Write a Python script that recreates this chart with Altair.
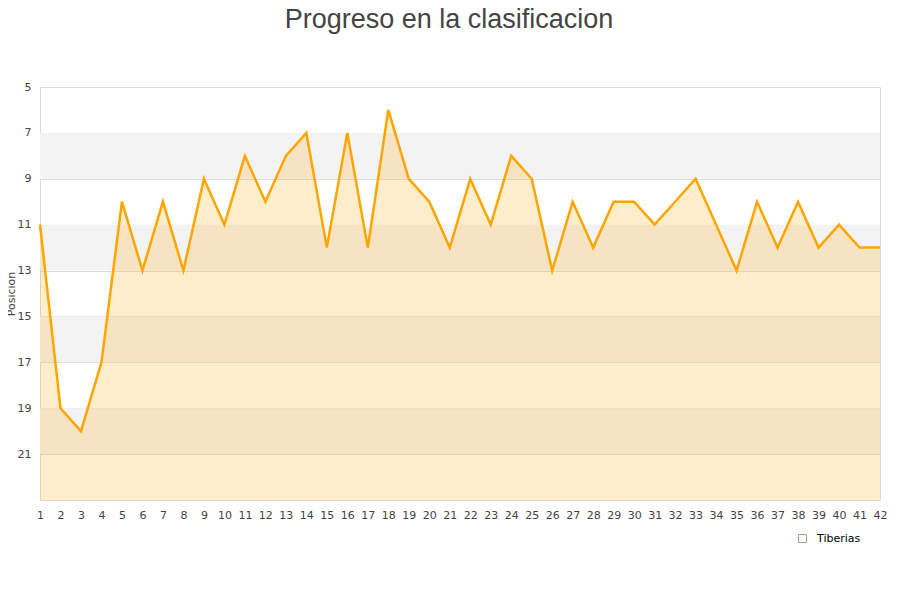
import altair as alt
import pandas as pd

jornadas = list(range(1, 43))
posiciones = [11, 19, 20, 17, 10, 13, 10, 13, 9, 11, 8, 10, 8, 7, 12, 7, 12, 6, 9, 10,
              12, 9, 11, 8, 9, 13, 10, 12, 10, 10, 11, 10, 9, 11, 13, 10, 12, 10, 12, 11,
              12, 12]
equipo = "Tiberias"
band_lo = [7, 11, 15, 19]
band_hi = [9, 13, 17, 21]
y_ticks = [5, 7, 9, 11, 13, 15, 17, 19, 21]

df = pd.DataFrame({"jornada": jornadas, "pos": posiciones, "serie": [equipo] * len(jornadas)})
bands = pd.DataFrame({"lo": band_lo, "hi": band_hi})

W, H = 840, 413

xscale = alt.Scale(domain=[1, 42], nice=False)
yscale = alt.Scale(domain=[5, 23], reverse=True, nice=False, zero=False)

xaxis = alt.Axis(values=jornadas, title=None, grid=False, ticks=False, domain=False,
                 labelFontSize=11, labelColor="#444", labelPadding=9,
                 labelFont="DejaVu Sans", labelFlush=False, labelOverlap=False)
yaxis = alt.Axis(values=y_ticks, title="Posicion", grid=True, gridColor="#dddddd",
                 ticks=False, domain=False, labelFontSize=11, labelColor="#444",
                 labelPadding=9, labelFont="DejaVu Sans", titleFont="DejaVu Sans",
                 titleFontSize=11, titleFontWeight="normal", titleColor="#444",
                 titlePadding=1)

band_layer = alt.Chart(bands).mark_rect(color="#f3f3f3").encode(
    x=alt.value(0), x2=alt.value(W),
    y=alt.Y("lo:Q", scale=yscale, axis=yaxis),
    y2="hi:Q",
)

area = alt.Chart(df).mark_area(color="#FFA500", fillOpacity=0.2, strokeWidth=0).encode(
    x=alt.X("jornada:Q", scale=xscale, axis=xaxis),
    y=alt.Y("pos:Q", scale=yscale, axis=yaxis),
    y2=alt.datum(23),
)

line = alt.Chart(df).mark_line(color="#FFA500", strokeWidth=2.5).encode(
    x=alt.X("jornada:Q", scale=xscale, axis=xaxis),
    y=alt.Y("pos:Q", scale=yscale, axis=yaxis),
)

legend_layer = alt.Chart(df).mark_point(
    filled=False, color="#9a8a70", strokeWidth=1, size=0
).encode(
    x=alt.X("jornada:Q", scale=xscale, axis=xaxis),
    y=alt.Y("pos:Q", scale=yscale, axis=yaxis),
    shape=alt.Shape("serie:N", scale=alt.Scale(range=["square"]),
                    legend=alt.Legend(title=None, orient="none", legendX=757, legendY=446,
                                      symbolSize=64, symbolFillColor="#FFE6B8",
                                      symbolStrokeColor="#8a7a60", symbolStrokeWidth=1,
                                      labelFontSize=11, labelColor="#000",
                                      labelFont="DejaVu Sans", padding=0, labelOffset=9)),
)

chart = alt.layer(band_layer, area, line, legend_layer).properties(
    width=W, height=H,
    title=alt.TitleParams("Progreso en la clasificacion", fontSize=27, font="Liberation Sans",
                          fontWeight="normal", color="#444", offset=47, dx=-11),
    autosize=alt.AutoSizeParams(type="none"),
    padding={"left": 32, "top": 79, "right": 12, "bottom": 80},
).configure_view(stroke="#dddddd").configure_axis(gridColor="#dddddd").configure_axisX(
    labelOverlap=False
)

chart.save("out.html", embed_options={"renderer": "svg", "actions": False})
